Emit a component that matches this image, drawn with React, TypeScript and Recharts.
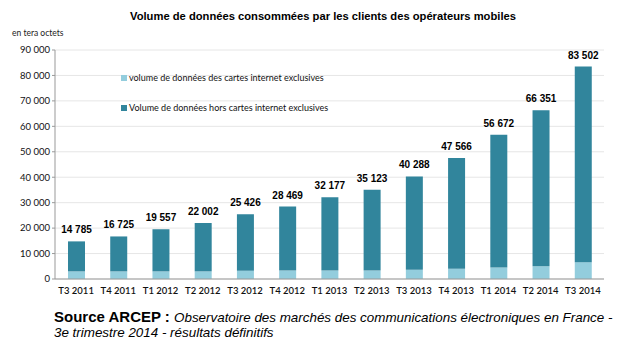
import React from 'react';
import { BarChart, Bar, XAxis, YAxis, CartesianGrid, LabelList } from 'recharts';

const quarters = ['T3 2011', 'T4 2011', 'T1 2012', 'T2 2012', 'T3 2012', 'T4 2012', 'T1 2013', 'T2 2013', 'T3 2013', 'T4 2013', 'T1 2014', 'T2 2014', 'T3 2014'];
const totals = [14785, 16725, 19557, 22002, 25426, 28469, 32177, 35123, 40288, 47566, 56672, 66351, 83502];
// cartes internet exclusives (approx.)
const cartesExclusives = [3000, 3000, 3000, 3000, 3200, 3300, 3300, 3300, 3600, 4000, 4500, 5000, 6600];
const yTicks = [0, 10000, 20000, 30000, 40000, 50000, 60000, 70000, 80000, 90000];

const darkColor = '#31859c';
const lightColor = '#93cddd';

const data = quarters.map((q, i) => ({
  name: q,
  cartes: cartesExclusives[i],
  hors: totals[i] - cartesExclusives[i],
  total: totals[i],
}));

const fmt = (v: number) => String(v).replace(/\B(?=(\d{3})+(?!\d))/g, ' ');

// etiquette du total au-dessus de la barre, sans retour a la ligne
const TotalLabel = (props: any) => {
  const { x, y, width, value } = props;
  return (
    <text x={x + width / 2} y={y - 8} textAnchor="middle" fontSize={10} fontWeight="bold" fill="#000" fontFamily='"Liberation Sans", Arial, sans-serif'>
      {fmt(value)}
    </text>
  );
};

export default function App() {
  return (
    <div style={{ position: 'absolute', left: 0, top: 0, width: 620, height: 350, background: '#fff', fontFamily: '"Liberation Sans", Arial, sans-serif' }}>
      <div style={{ position: 'absolute', left: 0, width: 646, top: 10, textAlign: 'center', fontSize: 11.2, fontWeight: 'bold', color: '#000' }}>
        Volume de données consommées par les clients des opérateurs mobiles
      </div>
      <div style={{ position: 'absolute', left: 12, top: 28, fontSize: 8.5, fontFamily: 'Lato, sans-serif', color: '#222' }}>
        en tera octets
      </div>

      <BarChart width={620} height={350} data={data} margin={{ top: 50, right: 16, left: 0, bottom: 0 }} barSize={17}>
        <CartesianGrid vertical={false} stroke="#e6e6e6" />
        <XAxis
          dataKey="name"
          height={71}
          axisLine={{ stroke: '#999' }}
          tickLine={false}
          tick={{ fontSize: 9.5, fill: '#111', fontFamily: 'Lato, sans-serif', fontWeight: 600 }}
          interval={0}
        />
        <YAxis
          width={55}
          domain={[0, 90000]}
          ticks={yTicks}
          tickFormatter={fmt}
          axisLine={{ stroke: '#999' }}
          tickLine={{ stroke: '#999' }}
          tickSize={3}
          tick={{ fontSize: 9.5, fill: '#111', fontFamily: 'Lato, sans-serif' }}
        />
        <Bar dataKey="cartes" stackId="a" fill={lightColor} isAnimationActive={false} />
        <Bar dataKey="hors" stackId="a" fill={darkColor} isAnimationActive={false}>
          <LabelList dataKey="total" content={TotalLabel} />
        </Bar>
      </BarChart>

      <div style={{ position: 'absolute', left: 121, top: 72, fontSize: 9, fontFamily: 'Lato, sans-serif', color: '#111', display: 'flex', alignItems: 'center' }}>
        <span style={{ display: 'inline-block', width: 6, height: 6, background: lightColor, marginRight: 2 }} />
        volume de données des cartes internet exclusives
      </div>
      <div style={{ position: 'absolute', left: 121, top: 102, fontSize: 9, fontFamily: 'Lato, sans-serif', color: '#111', display: 'flex', alignItems: 'center' }}>
        <span style={{ display: 'inline-block', width: 6, height: 6, background: darkColor, marginRight: 2 }} />
        Volume de données hors cartes internet exclusives
      </div>

      <div style={{ position: 'absolute', left: 54, top: 309, fontSize: 13.4, lineHeight: '15px', color: '#000' }}>
        <span style={{ fontWeight: 'bold', fontSize: 15 }}>Source ARCEP : </span>
        <span style={{ fontStyle: 'italic' }}>Observatoire des marchés des communications électroniques en France -</span>
        <br />
        <span style={{ fontStyle: 'italic' }}>3e trimestre 2014 - résultats définitifs</span>
      </div>
    </div>
  );
}
